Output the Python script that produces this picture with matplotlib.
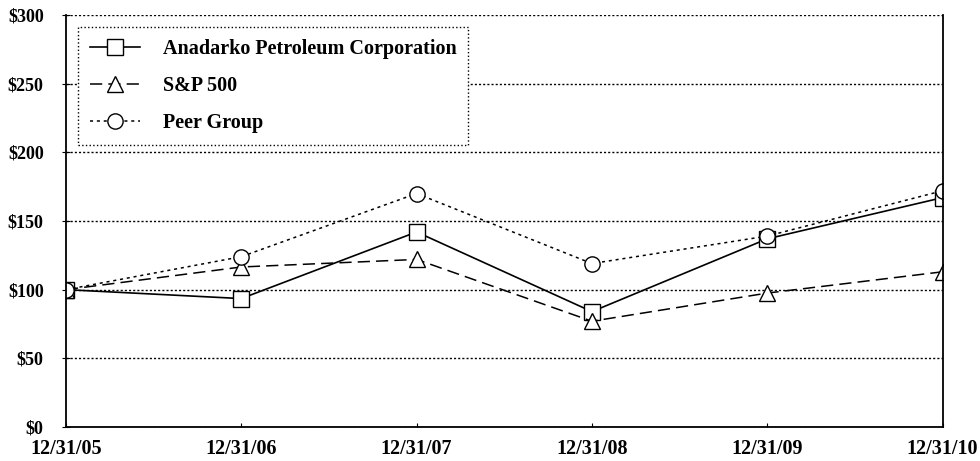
import matplotlib

matplotlib.use("Agg")
import matplotlib.pyplot as plt

DATES = ["12/31/05", "12/31/06", "12/31/07", "12/31/08", "12/31/09", "12/31/10"]
ANADARKO = [100, 93.5, 142, 84, 137, 167]
SP500 = [100, 116.5, 122, 77, 97.5, 113]
PEER_GROUP = [100, 124, 170, 119, 139, 172]
Y_TICKS = [0, 50, 100, 150, 200, 250, 300]

FONT = "Liberation Serif"


def main() -> None:
    fig = plt.figure(figsize=(9.8, 4.61), dpi=100)
    ax = fig.add_axes([0.0673, 0.0738, 0.8945, 0.8937])

    x = list(range(len(DATES)))
    marker_style = dict(markerfacecolor="white", markeredgecolor="black", markeredgewidth=1.0, markersize=11)
    ax.plot(x, ANADARKO, color="black", linewidth=1.2, linestyle="-", marker="s",
            label="Anadarko Petroleum Corporation", **marker_style)
    ax.plot(x, SP500, color="black", linewidth=1.1, linestyle=(0, (8, 4)), marker="^",
            label="S&P 500", **marker_style)
    ax.plot(x, PEER_GROUP, color="black", linewidth=1.1, linestyle=(0, (2, 2.5)), marker="o",
            label="Peer Group", **marker_style)

    ax.set_xlim(0, len(DATES) - 1)
    ax.set_ylim(0, 300)
    ax.set_yticks(Y_TICKS)
    ax.set_yticklabels([f"${v}" for v in Y_TICKS], fontfamily=FONT, fontweight="bold", fontsize=13)
    ax.set_xticks(x)
    ax.set_xticklabels(DATES, fontfamily=FONT, fontweight="bold", fontsize=14.5)
    ax.tick_params(axis="x", direction="in", length=3, pad=9)
    ax.tick_params(axis="y", direction="inout", length=6, pad=13)

    ax.yaxis.grid(True, color="black", linestyle=(0, (1.5, 1.5)), linewidth=1.0)
    ax.set_axisbelow(True)
    ax.spines["top"].set_visible(False)
    for side in ("left", "right", "bottom"):
        ax.spines[side].set_linewidth(1.3)

    legend = ax.legend(loc="upper left", bbox_to_anchor=(0.0137, 0.971), borderaxespad=0,
                       prop={"family": FONT, "weight": "bold", "size": 14.5}, handlelength=2.5,
                       borderpad=0.6, labelspacing=0.85, handletextpad=1.1, fancybox=False,
                       framealpha=1)
    frame = legend.get_frame()
    frame.set_edgecolor("black")
    frame.set_linestyle(":")
    frame.set_linewidth(1.0)

    fig.savefig("out.png", dpi=100)
    plt.close(fig)


if __name__ == "__main__":
    main()
